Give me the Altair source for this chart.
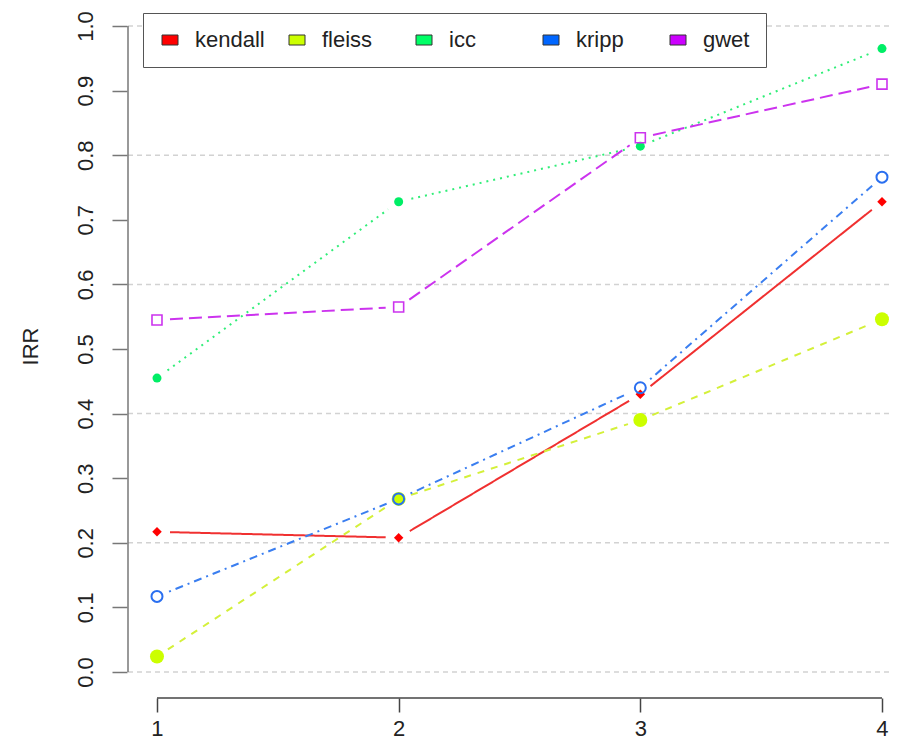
import math
import altair as alt
import pandas as pd

# ---------------- data ----------------
X = [1, 2, 3, 4]
SERIES = ["kendall", "fleiss", "icc", "kripp", "gwet"]
KENDALL = [0.217, 0.208, 0.430, 0.728]
FLEISS = [0.024, 0.268, 0.390, 0.546]
ICC = [0.455, 0.728, 0.814, 0.965]
KRIPP = [0.117, 0.268, 0.440, 0.766]
GWET = [0.545, 0.565, 0.827, 0.910]
VALUES = [KENDALL, FLEISS, ICC, KRIPP, GWET]
Y_TICKS = [0.0, 0.1, 0.2, 0.3, 0.4, 0.5, 0.6, 0.7, 0.8, 0.9, 1.0]
GRID = [0.0, 0.2, 0.4, 0.6, 0.8, 1.0]

# ---------------- styles ----------------
FONT = "Liberation Sans"
LEGEND_COLORS = ["#ff0000", "#ccff00", "#00ff66", "#0066ff", "#cc00ff"]
LINE_COLORS = ["#f03030", "#d4f03a", "#30ee78", "#3a7ef0", "#cc33ee"]
LINE_DASH = [[1, 0], [7, 7], [2, 5], [2, 5, 8, 5], [13, 6]]
MARKERS = [
    dict(shape="diamond", filled=True, size=90, color="#ff0000", strokeWidth=0),
    dict(shape="circle", filled=True, size=196, color="#ccff00", strokeWidth=0),
    dict(shape="circle", filled=True, size=81, color="#00ee66", strokeWidth=0),
    dict(shape="circle", filled=False, size=121, color="#2a6ff0", strokeWidth=2),
    dict(shape="square", filled=False, size=100, color="#cc33ee", strokeWidth=1.6),
]

W, H = 762, 685
XDOM = [0.8759, 4.029]
YDOM = [-0.0402, 1.0201]
GAP = 13  # R type="b" gap around points, in pixels

xsc = alt.Scale(domain=XDOM, nice=False, zero=False)
ysc = alt.Scale(domain=YDOM, nice=False, zero=False)

xaxis = alt.Axis(values=X, format="d", domain=False, grid=False, tickSize=14,
                 tickColor="#444", tickWidth=1.5, labelPadding=6, labelFontSize=22,
                 labelFont=FONT, labelColor="#222", labelBaseline="top",
                 labelFlush=False, labelOverlap=False, title=None)
yaxis = alt.Axis(values=Y_TICKS, format=".1f", domain=False, grid=False, tickSize=15,
                 tickColor="#777", tickWidth=1.5, labelAngle=270, labelAlign="center",
                 labelBaseline="alphabetic", labelPadding=20, labelFontSize=22,
                 labelFont=FONT, labelColor="#222", labelFlush=False, labelOverlap=False,
                 title="IRR", titleFont=FONT, titleFontSize=22, titleFontWeight="normal",
                 titleColor="#222", titleAngle=270, titleX=-90, titleY=333,
                 titleAlign="center", titleBaseline="alphabetic")

PX = W / (XDOM[1] - XDOM[0])
PY = H / (YDOM[1] - YDOM[0])

layers = []

grid = alt.Chart(pd.DataFrame({"g": GRID})).mark_rule(
    color="#d2d2d2", strokeWidth=1.5, strokeDash=[5, 4]
).encode(y=alt.Y("g:Q", scale=ysc, axis=yaxis))
layers.append(grid)

yline = alt.Chart(pd.DataFrame({"y0": [Y_TICKS[0]], "y1": [Y_TICKS[-1]]})).mark_rule(
    color="#777", strokeWidth=1.5
).encode(x=alt.value(1), y=alt.Y("y0:Q", scale=ysc, axis=yaxis), y2="y1:Q")
layers.append(yline)

xline = alt.Chart(pd.DataFrame({"x0": [X[0]], "x1": [X[-1]]})).mark_rule(
    color="#444", strokeWidth=1.5
).encode(x=alt.X("x0:Q", scale=xsc, axis=xaxis), x2="x1:Q", y=alt.value(H))
layers.append(xline)

rows = []
for name, vals, lc, dash, mk in zip(SERIES, VALUES, LINE_COLORS, LINE_DASH, MARKERS):
    segs = []
    for i in range(len(X) - 1):
        x1, y1, x2, y2 = X[i], vals[i], X[i + 1], vals[i + 1]
        dxp, dyp = (x2 - x1) * PX, (y2 - y1) * PY
        L = math.hypot(dxp, dyp)
        ux, uy = dxp / L, dyp / L
        segs.append({
            "xa": x1 + ux * GAP / PX, "ya": y1 + uy * GAP / PY,
            "xb": x2 - ux * GAP / PX, "yb": y2 - uy * GAP / PY,
        })
    seg = alt.Chart(pd.DataFrame(segs)).mark_rule(
        color=lc, strokeWidth=2, strokeDash=dash
    ).encode(
        x=alt.X("xa:Q", scale=xsc, axis=xaxis), y=alt.Y("ya:Q", scale=ysc, axis=yaxis),
        x2="xb:Q", y2="yb:Q",
    )
    layers.append(seg)
    df = pd.DataFrame({"x": X, "v": vals, "series": name})
    rows.append(df)
    pts = alt.Chart(df).mark_point(
        shape=mk["shape"], filled=mk["filled"], size=mk["size"], color=mk["color"],
        strokeWidth=mk["strokeWidth"], opacity=1,
    ).encode(
        x=alt.X("x:Q", scale=xsc, axis=xaxis), y=alt.Y("v:Q", scale=ysc, axis=yaxis)
    )
    layers.append(pts)

all_df = pd.concat(rows, ignore_index=True)
legend_layer = alt.Chart(all_df).mark_point(filled=True, size=0).encode(
    x=alt.X("x:Q", scale=xsc, axis=xaxis),
    y=alt.Y("v:Q", scale=ysc, axis=yaxis),
    fill=alt.Fill("series:N", scale=alt.Scale(domain=SERIES, range=LEGEND_COLORS),
                  legend=alt.Legend(
                      orient="none", legendX=16, legendY=0, direction="horizontal",
                      title=None, symbolType="M-1,-0.625H1V0.625H-1Z", symbolSize=256,
                      symbolStrokeColor="#333", symbolStrokeWidth=1, symbolOpacity=1,
                      labelFontSize=22, labelFont=FONT, labelColor="#222",
                      labelOffset=14, columnPadding=21, padding=16,
                      strokeColor="#555", fillColor="white", cornerRadius=0,
                      gridAlign="all",
                  )),
)
layers.append(legend_layer)

chart = alt.layer(*layers).properties(
    width=W, height=H,
    autosize=alt.AutoSizeParams(type="none"),
    padding={"left": 119, "top": 5, "right": 0, "bottom": 45},
    background="white",
).configure_view(stroke=None)

chart.save("out.html", embed_options={"renderer": "svg", "actions": False})
